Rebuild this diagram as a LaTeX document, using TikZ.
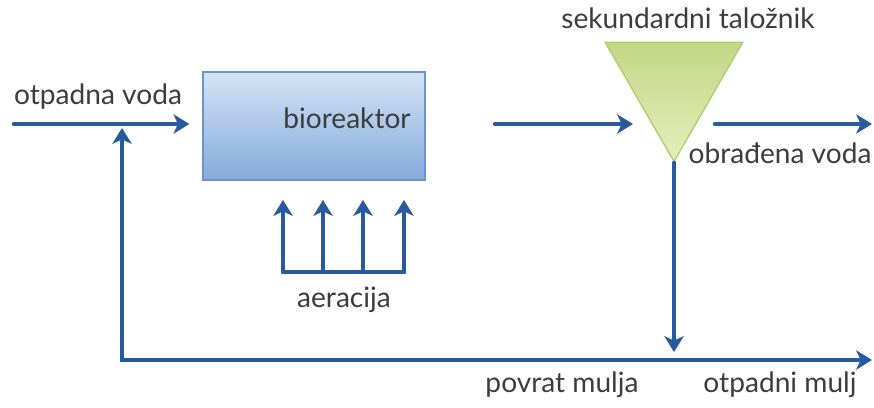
\documentclass[tikz,border=0pt]{standalone}
\usepackage{fontspec}
\setmainfont{Lato}
\usetikzlibrary{positioning, shapes.geometric, arrows.meta}
\definecolor{flowblue}{HTML}{2A5A9E}
\definecolor{boxtop}{HTML}{D3E3F5}
\definecolor{boxbot}{HTML}{85AADA}
\definecolor{boxline}{HTML}{6E95C8}
\definecolor{trtop}{HTML}{C2D686}
\definecolor{trbot}{HTML}{E6EFBC}
\definecolor{trline}{HTML}{B3CB72}
\definecolor{txt}{HTML}{3C3C3C}

\begin{document}
\begin{tikzpicture}[x=0.02cm, y=-0.02cm,
        font=\fontsize{16}{19}\selectfont, text=txt,
        flow/.style = {draw=flowblue, line width=2.5pt, line cap=round,
                    -{Stealth[length=9pt, width=11pt, inset=2.5pt]}},
        reactor/.style = {rectangle, draw=boxline, line width=0.8pt,
                    top color=boxtop, bottom color=boxbot,
                    minimum width=4.44cm, minimum height=2.16cm},
        settler/.style = {regular polygon, regular polygon sides=3,
                    shape border rotate=180, draw=trline, line width=0.8pt,
                    top color=trtop, bottom color=trbot,
                    minimum size=3.18cm, inner sep=0pt}
                    ]
        \useasboundingbox (0,0) rectangle (874,407);
        \node (bio) [reactor] at (314,126) {};
        \node (biolbl) at (347,118) {bioreaktor};
        \node (settler) [settler] at (674,82) {};
        \node (settlerlbl) at (688,18) {sekundardni taložnik};
        %
        \node (inlbl) at (98,97) {otpadna voda};
        \node (outlbl) at (780,153) {obrađena voda};
        \node (airlbl) at (344,300) {aeracija};
        \node (retlbl) at (562,385) {povrat mulja};
        \node (wastelbl) at (780,385) {otpadni mulj};
        %
        \coordinate (in) at (14,124);
        \coordinate (mid) at (495,124);
        \coordinate (midend) at (633,124);
        \coordinate (out) at (715,124);
        \coordinate (outend) at (872,124);
        \coordinate (sludge) at (settler.corner 1 |- 0,352);
        \coordinate (retup) at (122,128);
        \coordinate (ret) at (122,360);
        \coordinate (waste) at (872,360);
        %
        \draw[flow] (in) -- (in -| bio.west) [shorten >=0.26cm];
        \draw[flow] (mid) -- (midend);
        \draw[flow] (out) -- (outend);
        \draw[flow] (settler.corner 1) -- (sludge);
        \draw[flow, {Stealth[length=9pt, width=11pt, inset=2.5pt]}-{Stealth[length=9pt, width=11pt, inset=2.5pt]}]
            (retup) -- (ret) -- (waste);
        %
        \foreach \x in {283,323,363,404}
            \draw[flow] (\x,272) -- (\x,200);
        \draw[flow, -] (283,272) -- (404,272);
    \end{tikzpicture}
\end{document}
